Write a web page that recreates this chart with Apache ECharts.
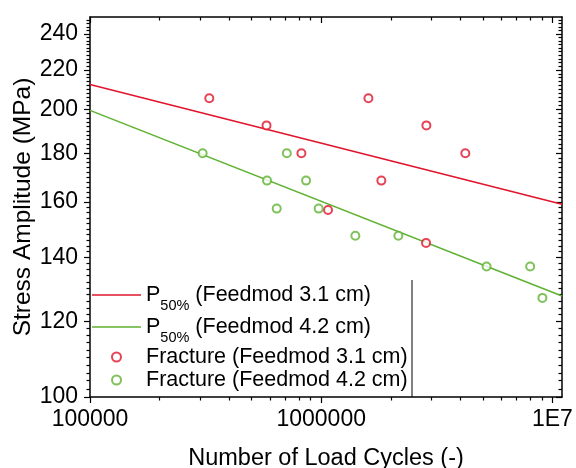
<!DOCTYPE html>
<html>
<head>
<meta charset="utf-8">
<script src="https://cdn.jsdelivr.net/npm/echarts@6/dist/echarts.min.js"></script>
<style>html,body{margin:0;padding:0;background:#fff}#c{width:576px;height:468px}</style>
</head>
<body>
<div id="c"></div>
<script>
// ---- data ----
const redCycles   = [3.28e5, 5.80e5, 8.21e5, 1.07e6, 1.60e6, 1.82e6, 2.85e6, 2.84e6, 4.20e6];
const redStress   = [205.5, 192.5, 180, 157, 205.5, 168.5, 192.5, 145, 180];
const greenCycles = [3.07e5, 5.83e5, 6.42e5, 7.10e5, 8.60e5, 9.75e5, 1.405e6, 2.156e6, 5.19e6, 8.01e6, 9.05e6];
const greenStress = [180, 168.5, 157.5, 180, 168.5, 157.5, 147.5, 147.5, 137, 137, 127];
const p50Cycles   = [1e5, 1.1e7];
const p50Red      = [212.4, 159.2];
const p50Green    = [199.6, 127.6];
const xMajor = [1e5, 1e6, 1e7];
const xMinor = [2e5,3e5,4e5,5e5,6e5,7e5,8e5,9e5,2e6,3e6,4e6,5e6,6e6,7e6,8e6,9e6];
const yMajor = [100,120,140,160,180,200,220,240];
const yMinor = [];
for (let v = 102; v < 250; v += 2) { if (v % 20 !== 0) yMinor.push(v); }
const names = ['P50% (Feedmod 3.1 cm)', 'P50% (Feedmod 4.2 cm)', 'Fracture (Feedmod 3.1 cm)', 'Fracture (Feedmod 4.2 cm)'];
const RED = '#e0142c', GREEN = '#5fb231';

const zip = (a, b) => a.map((v, i) => [v, b[i]]);
const FONT = 'Liberation Sans, Arial, sans-serif';

const chart = echarts.init(document.getElementById('c'), null, {renderer: 'canvas'});
const lineStyle = {color: '#000', width: 1.5};
function xAx(pos, ticks, len, inside, main) {
  return {
    type: 'log', logBase: 10, min: 1e5, max: 1.1e7, position: pos,
    axisLine: {show: !!main, onZero: false, lineStyle},
    axisTick: {show: true, inside: inside, length: len, customValues: ticks, lineStyle: {color: '#000', width: 1.2}},
    axisLabel: main && pos === 'bottom' ? {
      show: true, customValues: xMajor, margin: 11, color: '#000', fontSize: 23, fontFamily: FONT,
      formatter: v => { const r = Math.round(v); return r >= 1e7 ? '1E7' : String(r); }
    } : {show: false},
    splitLine: {show: false},
    name: main && pos === 'bottom' ? 'Number of Load Cycles (-)' : '',
    nameLocation: 'middle', nameGap: 50,
    nameTextStyle: {color: '#000', fontSize: 23.5, fontFamily: FONT}
  };
}
function yAx(pos, ticks, len, inside, main) {
  return {
    type: 'log', logBase: 10, min: 100, max: 250, position: pos,
    axisLine: {show: !!main, onZero: false, lineStyle},
    axisTick: {show: true, inside: inside, length: len, customValues: ticks, lineStyle: {color: '#000', width: 1.2}},
    axisLabel: main && pos === 'left' ? {
      show: true, customValues: yMajor, margin: 12, color: '#000', fontSize: 23, fontFamily: FONT,
      formatter: v => String(Math.round(v))
    } : {show: false},
    splitLine: {show: false},
    name: main && pos === 'left' ? 'Stress Amplitude (MPa)' : '',
    nameLocation: 'middle', nameGap: 54, nameRotate: 90, nameMoveOverlap: false,
    nameTextStyle: {color: '#000', fontSize: 24.5, fontFamily: FONT}
  };
}

const rich = {
  a: {fontSize: 21.5, fontFamily: FONT, color: '#000', lineHeight: 26, verticalAlign: 'top', padding: [2, 0, 0, 0]},
  b: {fontSize: 21.5, fontFamily: FONT, color: '#000', lineHeight: 27},
  s: {fontSize: 14.5, fontFamily: FONT, color: '#000', lineHeight: 16, verticalAlign: 'top', padding: [16, 0, 0, 0]}
};
const linePath = 'path://M0,0H49V1.6H0Z';

chart.setOption({
  animation: false,
  backgroundColor: '#fff',
  grid: {left: 90, right: 14, top: 17, bottom: 71, containLabel: false, outerBoundsMode: 'none'},
  xAxis: [
    xAx('bottom', xMajor, 6, false, true),
    xAx('bottom', xMinor, 3.5, false, false),
    xAx('top', xMajor, 6, true, true),
    xAx('top', xMinor, 3.5, true, false)
  ],
  yAxis: [
    yAx('left', yMajor, 6, false, true),
    yAx('left', yMinor, 3.5, false, false),
    yAx('right', yMajor, 6, true, true),
    yAx('right', yMinor, 3.5, true, false)
  ],
  legend: {
    orient: 'vertical', left: 92, top: 282, itemGap: 1, padding: 0,
    itemWidth: 49, itemHeight: 9, symbolKeepAspect: true,
    data: [
      {name: names[0], icon: linePath},
      {name: names[1], icon: linePath},
      {name: names[2]},
      {name: names[3]}
    ],
    formatter: n => n.indexOf('P50%') === 0 ? '{a|P}{s|50%}{a|' + n.slice(4) + '}' : '{b|' + n + '}',
    textStyle: {rich, fontSize: 21.5, fontFamily: FONT, color: '#000'}
  },
  graphic: [{
    type: 'line', shape: {x1: 412, y1: 280, x2: 412, y2: 397}, style: {stroke: '#000', lineWidth: 1}, z: 10
  }],
  series: [
    {name: names[0], type: 'line', data: zip(p50Cycles, p50Red), symbol: 'none',
     lineStyle: {color: RED, width: 1.6}, itemStyle: {color: RED}, z: 3},
    {name: names[1], type: 'line', data: zip(p50Cycles, p50Green), symbol: 'none',
     lineStyle: {color: GREEN, width: 1.6}, itemStyle: {color: GREEN}, z: 3},
    {name: names[2], type: 'scatter', data: zip(redCycles, redStress), symbol: 'emptyCircle', symbolSize: 8,
     itemStyle: {color: RED, borderWidth: 1.6}, z: 4},
    {name: names[3], type: 'scatter', data: zip(greenCycles, greenStress), symbol: 'emptyCircle', symbolSize: 8,
     itemStyle: {color: GREEN, borderWidth: 1.6}, z: 4}
  ]
});
</script>
</body>
</html>
